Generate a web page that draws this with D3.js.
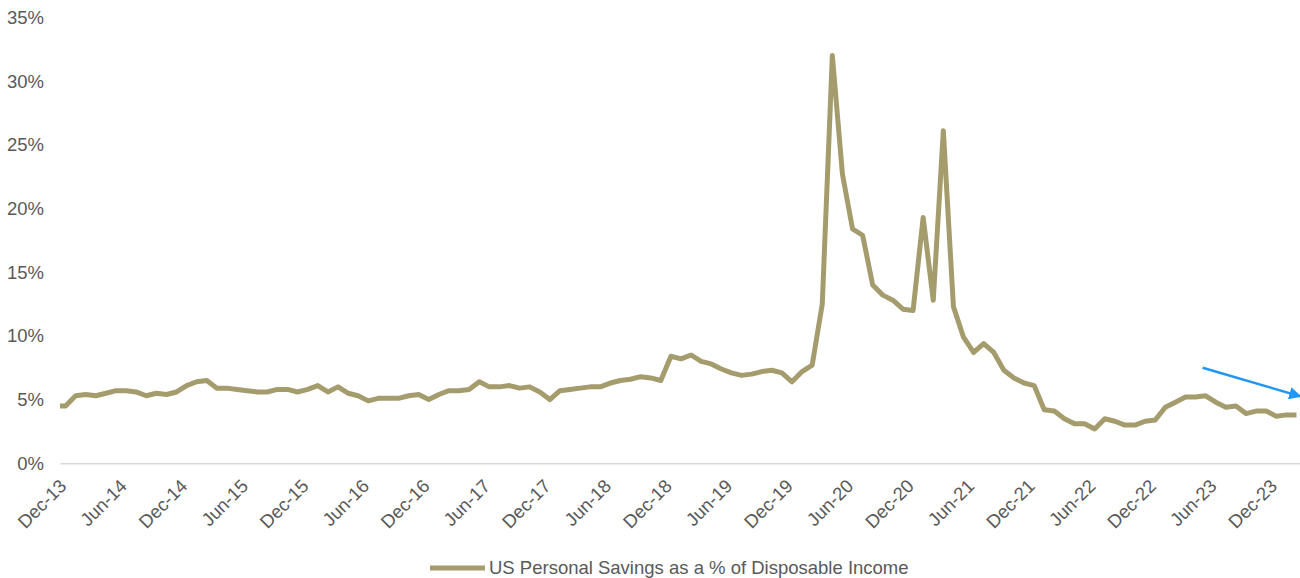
<!DOCTYPE html>
<html>
<head>
<meta charset="utf-8">
<script src="https://cdn.jsdelivr.net/npm/d3@7"></script>
<style>
  html, body { margin: 0; padding: 0; background: #ffffff; }
  svg { display: block; }
  text { font-family: "Liberation Sans", Arial, sans-serif; fill: #595959; }
</style>
</head>
<body>
<svg id="chart" width="1300" height="578"></svg>
<script>
// Monthly series, first month is Nov-2013 (sits just left of the plot edge)
const savingsRate = [
  4.5, 4.5,
  5.3, 5.4, 5.3, 5.5, 5.7, 5.7, 5.6, 5.3, 5.5, 5.4, 5.6, 6.1,
  6.4, 6.5, 5.9, 5.9, 5.8, 5.7, 5.6, 5.6, 5.8, 5.8, 5.6, 5.8,
  6.1, 5.6, 6.0, 5.5, 5.3, 4.9, 5.1, 5.1, 5.1, 5.3, 5.4, 5.0,
  5.4, 5.7, 5.7, 5.8, 6.4, 6.0, 6.0, 6.1, 5.9, 6.0, 5.6, 5.0,
  5.7, 5.8, 5.9, 6.0, 6.0, 6.3, 6.5, 6.6, 6.8, 6.7, 6.5, 8.4,
  8.2, 8.5, 8.0, 7.8, 7.4, 7.1, 6.9, 7.0, 7.2, 7.3, 7.1, 6.4,
  7.2, 7.7, 12.5, 32.0, 22.7, 18.4, 17.9, 14.0, 13.2, 12.8, 12.1, 12.0,
  19.3, 12.8, 26.1, 12.3, 9.9, 8.7, 9.4, 8.7, 7.3, 6.7, 6.3, 6.1,
  4.2, 4.1, 3.5, 3.1, 3.1, 2.7, 3.5, 3.3, 3.0, 3.0, 3.3, 3.4,
  4.4, 4.8, 5.2, 5.2, 5.3, 4.8, 4.4, 4.5, 3.9, 4.1, 4.1, 3.7,
  3.8, 3.8
];
const seriesName = "US Personal Savings as a % of Disposable Income";
const monthNames = ["Jan","Feb","Mar","Apr","May","Jun","Jul","Aug","Sep","Oct","Nov","Dec"];
// Axis labels every six months, as month offsets from Dec-2013
const xTickMonths = [0, 6, 12, 18, 24, 30, 36, 42, 48, 54, 60, 66, 72, 78, 84, 90, 96, 102, 108, 114, 120];
const yTicks = [0, 5, 10, 15, 20, 25, 30, 35];
// Trend arrow in chart units: [month offset from Dec-2013, percent]
const trendArrow = [[112.7, 7.5], [122.4, 5.25]];

// month offset relative to Dec-2013 (Nov-2013 -> -1)
const points = savingsRate.map((v, k) => ({ m: k - 1, v }));

function monthLabel(m) {
  const total = 2013 * 12 + 11 + m;
  const yr = Math.floor(total / 12);
  const mo = total % 12;
  return monthNames[mo] + "-" + String(yr % 100).padStart(2, "0");
}

const svg = d3.select("#chart");
const plot = { left: 60, right: 1300.5, top: 15, bottom: 463.3 };

const x = d3.scaleLinear().domain([-0.55, 122.4]).range([plot.left, plot.right]);
const y = d3.scaleLinear().domain([0, 35]).range([plot.bottom, plot.bottom - 35 * 12.74]);

// clip region = plot area
const defs = svg.append("defs");
defs.append("clipPath").attr("id", "plotClip")
  .append("rect")
  .attr("x", plot.left).attr("y", 0)
  .attr("width", plot.right - plot.left).attr("height", plot.bottom + 5);

// y axis labels
const yAxis = svg.append("g")
  .attr("transform", `translate(44,0)`)
  .call(d3.axisLeft(y).tickValues(yTicks).tickSize(0).tickPadding(0).tickFormat(d => d + "%"));
yAxis.select(".domain").remove();
yAxis.selectAll("text")
  .style("font-size", "18.5px")
  .style("font-family", "'Liberation Sans', Arial, sans-serif")
  .attr("fill", "#595959");

// x axis: baseline plus rotated date labels
const xAxis = svg.append("g")
  .attr("transform", `translate(0,${y(0)})`)
  .call(d3.axisBottom(x).tickValues(xTickMonths).tickSize(0).tickSizeOuter(0).tickFormat(monthLabel));
xAxis.select(".domain").attr("stroke", "#d9d9d9").attr("stroke-width", 1.5);
xAxis.selectAll("text")
  .attr("y", 0).attr("x", 0).attr("dy", null)
  .attr("text-anchor", "end")
  .attr("transform", "translate(1.5,24) rotate(-45)")
  .style("font-size", "18.5px")
  .style("font-family", "'Liberation Sans', Arial, sans-serif")
  .attr("fill", "#595959");

// series line
const line = d3.line().x(d => x(d.m)).y(d => y(d.v));
svg.append("path")
  .datum(points)
  .attr("clip-path", "url(#plotClip)")
  .attr("fill", "none")
  .attr("stroke", "#a59c6e")
  .attr("stroke-width", 5)
  .attr("stroke-linejoin", "round")
  .attr("d", line);

// trend arrow
defs.append("marker")
  .attr("id", "arrowHead")
  .attr("viewBox", "0 0 10 10")
  .attr("refX", 9).attr("refY", 5)
  .attr("markerWidth", 5).attr("markerHeight", 5)
  .attr("markerUnits", "strokeWidth")
  .attr("orient", "auto")
  .append("path").attr("d", "M0,0 L10,5 L0,10 Z").attr("fill", "#2196f3");
svg.append("line")
  .attr("x1", x(trendArrow[0][0])).attr("y1", y(trendArrow[0][1]))
  .attr("x2", x(trendArrow[1][0])).attr("y2", y(trendArrow[1][1]))
  .attr("stroke", "#2196f3").attr("stroke-width", 2.5)
  .attr("marker-end", "url(#arrowHead)");

// legend
const legend = svg.append("g").attr("transform", "translate(430,568)");
legend.append("line")
  .attr("x1", 0).attr("x2", 55).attr("y1", 0).attr("y2", 0)
  .attr("stroke", "#a59c6e").attr("stroke-width", 5);
legend.append("text")
  .attr("x", 59).attr("y", 0).attr("dy", "0.35em")
  .style("font-size", "18.5px")
  .text(seriesName);
</script>
</body>
</html>
